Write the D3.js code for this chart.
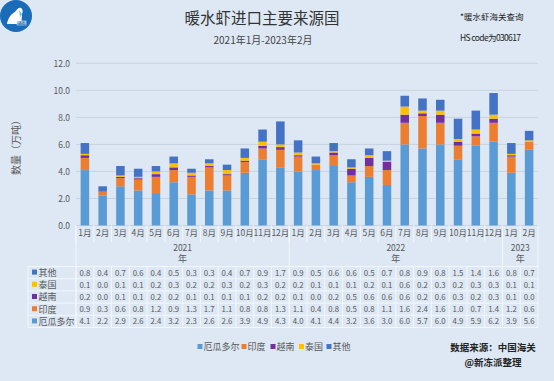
<!DOCTYPE html>
<html><head><meta charset="utf-8">
<script src="https://cdn.jsdelivr.net/npm/d3@7"></script>
<style>
html,body{margin:0;padding:0;background:#dde8f4;}
svg{display:block;}
text{font-family:"Noto Sans CJK SC","Noto Sans",sans-serif;}
</style></head><body>
<svg id="c" width="554" height="381"></svg>
<script>
const months = ["1月","2月","3月","4月","5月","6月","7月","8月","9月","10月","11月","12月",
                "1月","2月","3月","4月","5月","6月","7月","8月","9月","10月","11月","12月",
                "1月","2月"];
const years = [{label:"2021", count:12},{label:"2022", count:12},{label:"2023", count:2}];
const seriesNames = ["厄瓜多尔","印度","越南","泰国","其他"];
const colors = ["#5b9bd5","#ed7d31","#7030a0","#ffc000","#4472c4"];
const ecuador = [4.1,2.2,2.9,2.6,2.4,3.2,2.3,2.6,2.6,3.9,4.9,4.3,4.0,4.1,4.4,3.2,3.6,3.0,6.0,5.7,6.0,4.9,5.9,6.2,3.9,5.6];
const india   = [0.9,0.3,0.6,0.8,1.2,0.9,1.3,1.7,1.1,0.8,0.8,1.3,1.1,0.4,0.8,0.5,0.8,1.1,1.6,2.4,1.6,1.0,0.7,1.4,1.2,0.6];
const vietnam = [0.2,0.0,0.1,0.1,0.2,0.2,0.1,0.1,0.1,0.1,0.2,0.2,0.1,0.0,0.2,0.5,0.6,0.6,0.6,0.2,0.6,0.3,0.2,0.3,0.1,0.0];
const thailand= [0.1,0.0,0.1,0.1,0.2,0.3,0.2,0.2,0.3,0.2,0.3,0.2,0.2,0.1,0.1,0.1,0.2,0.1,0.6,0.2,0.3,0.2,0.3,0.3,0.1,0.1];
const others  = [0.8,0.4,0.7,0.6,0.4,0.5,0.3,0.3,0.4,0.7,0.9,1.7,0.9,0.5,0.6,0.6,0.5,0.7,0.8,0.9,0.8,1.5,1.4,1.6,0.8,0.7];
const yTicks = [0,2,4,6,8,10,12];

const seriesValues = [ecuador, india, vietnam, thailand, others];
const idx = d3.range(months.length);
const rows = idx.map(i => { const o = {i}; seriesNames.forEach((s,k)=>o[s]=seriesValues[k][i]); return o; });

const svg = d3.select("#c");
const L = 76, R = 538, T = 63.3, B = 225.5;
const x = d3.scaleBand().domain(idx).range([L, R]).paddingInner(0.52).paddingOuter(0.26);
const xb = d3.scaleBand().domain(idx).range([L, R]);
const y = d3.scaleLinear().domain([0,12]).range([B, T]);
const gray = "#595959";
const lineCol = "#f3f7fb";

// logo
const logo = svg.append("g");
logo.append("circle").attr("cx",16).attr("cy",16).attr("r",16).attr("fill","#1a6bb8");
logo.append("path").attr("d","M7,24 C8,18 11,14 15,12 C17,9 19,7 21,8 C23,9 23,12 22,14 C22,18 21,21 22,24 Z").attr("fill","#ffffff");
logo.append("path").attr("d","M19,10 L22,14 L20,17 Z").attr("fill","#5cc3f0");
logo.append("rect").attr("x",17).attr("y",21).attr("width",9).attr("height",4).attr("fill","#1a6bb8").attr("stroke","#fff").attr("stroke-width",0.5);
logo.append("text").attr("x",21.5).attr("y",24.2).attr("text-anchor","middle").attr("font-size",3).attr("fill","#fff").text("新冻派");

// titles
svg.append("text").attr("x",262).attr("y",23.5).attr("text-anchor","middle").attr("font-size",15.5).attr("fill","#333").text("暖水虾进口主要来源国");
svg.append("text").attr("x",263).attr("y",44).attr("text-anchor","middle").attr("font-size",10).attr("fill","#444").text("2021年1月-2023年2月");
svg.append("text").attr("x",460).attr("y",20).attr("font-size",8.5).attr("fill","#222").text("*暖水虾海关查询");
svg.append("text").attr("x",460).attr("y",41).attr("font-size",8.5).attr("fill","#222").attr("font-family","'Liberation Mono','DejaVu Sans Mono',monospace").attr("textLength",61).text("HS code为030617");

// gridlines
svg.append("g").selectAll("line").data(yTicks).join("line")
  .attr("x1",L).attr("x2",R).attr("y1",d=>y(d)).attr("y2",d=>y(d))
  .attr("stroke","#c8d3df").attr("stroke-width",1);

// y axis labels
const yAxis = d3.axisLeft(y).tickValues(yTicks).tickFormat(d3.format(".1f")).tickSize(0).tickPadding(0);
const ya = svg.append("g").attr("transform",`translate(${L-6},0)`).call(yAxis);
ya.select(".domain").remove();
ya.selectAll("text").attr("font-size",8.5).attr("fill",gray).attr("font-family","'Noto Sans',sans-serif");

svg.append("text").attr("transform","translate(20,145) rotate(-90)").attr("text-anchor","middle")
  .attr("font-size",10).attr("fill",gray).text("数量（万吨）");

// stacked bars
const stack = d3.stack().keys(seriesNames)(rows);
svg.append("g").selectAll("g").data(stack).join("g").attr("fill",(d,k)=>colors[k])
  .selectAll("rect").data(d=>d).join("rect")
  .attr("x",d=>x(d.data.i)).attr("width",x.bandwidth())
  .attr("y",d=>y(d[1])).attr("height",d=>Math.max(0,y(d[0])-y(d[1])));

// x axis month labels
const xa = svg.append("g").attr("transform",`translate(0,${B})`).call(d3.axisBottom(xb).tickFormat(i=>months[i]).tickSize(0).tickPadding(4));
xa.select(".domain").remove();
xa.selectAll("text").attr("font-size",8.5).attr("fill",gray);

// table
const rowTop = 266.5, rowH = 12.2;
const tableRows = [4,3,2,1,0];
const lines = svg.append("g").attr("stroke",lineCol).attr("stroke-width",1);
idx.forEach(i => {
  lines.append("line").attr("x1",xb(i)).attr("x2",xb(i)).attr("y1",B).attr("y2",242);
});
let acc = 0;
const yearBounds = [0];
years.forEach(yr => { acc += yr.count; yearBounds.push(acc); });
yearBounds.forEach(b => {
  const xx = b < months.length ? xb(b) : R;
  lines.append("line").attr("x1",xx).attr("x2",xx).attr("y1",B).attr("y2",rowTop+rowH*5);
});
acc = 0;
years.forEach(yr => {
  const cx = (xb(acc) + (acc+yr.count < months.length ? xb(acc+yr.count) : R))/2;
  svg.append("text").attr("x",cx).attr("y",251).attr("text-anchor","middle").attr("font-size",8.5).attr("fill",gray).text(yr.label);
  svg.append("text").attr("x",cx).attr("y",262).attr("text-anchor","middle").attr("font-size",9).attr("fill",gray).text("年");
  acc += yr.count;
});
d3.range(6).forEach(r => {
  lines.append("line").attr("x1",28).attr("x2",R).attr("y1",rowTop+r*rowH).attr("y2",rowTop+r*rowH);
});
lines.append("line").attr("x1",28).attr("x2",28).attr("y1",rowTop).attr("y2",rowTop+rowH*5);
idx.forEach(i => {
  lines.append("line").attr("x1",xb(i)).attr("x2",xb(i)).attr("y1",rowTop).attr("y2",rowTop+rowH*5);
});
tableRows.forEach((k, r) => {
  const cy = rowTop + r*rowH + rowH/2;
  svg.append("rect").attr("x",32).attr("y",cy-3).attr("width",5).attr("height",5).attr("fill",colors[k]);
  svg.append("text").attr("x",38.5).attr("y",cy+3.3).attr("font-size",9).attr("fill",gray).text(seriesNames[k]);
  svg.append("g").selectAll("text").data(seriesValues[k]).join("text")
    .attr("x",(d,i)=>xb(i)+xb.bandwidth()/2).attr("y",cy+3)
    .attr("text-anchor","middle").attr("font-size",7.8).attr("fill",gray)
    .attr("font-family","'Noto Sans',sans-serif")
    .text(d=>d3.format(".1f")(d));
});

// legend
const legendX = [197.5, 241.5, 270.5, 299, 326.5];
const lg = svg.append("g");
seriesNames.forEach((s,k) => {
  lg.append("rect").attr("x",legendX[k]).attr("y",344).attr("width",5).attr("height",5).attr("fill",colors[k]);
  lg.append("text").attr("x",legendX[k]+6).attr("y",350).attr("font-size",9).attr("fill",gray).text(s);
});

// source
svg.append("text").attr("x",493).attr("y",351).attr("text-anchor","middle").attr("font-size",9.5).attr("font-weight","bold").attr("fill","#222").text("数据来源：中国海关");
svg.append("text").attr("x",493).attr("y",365.5).attr("text-anchor","middle").attr("font-size",9.5).attr("font-weight","bold").attr("fill","#222").text("@新冻派整理");
</script></body></html>
